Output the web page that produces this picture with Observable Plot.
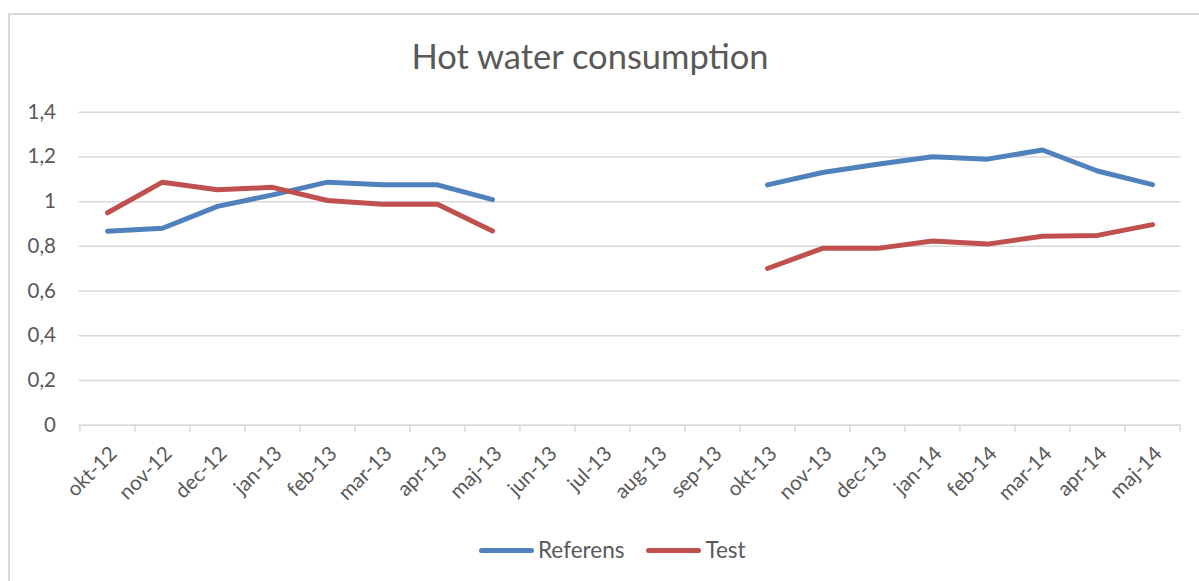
<!DOCTYPE html>
<html>
<head>
<meta charset="utf-8">
<script src="https://cdn.jsdelivr.net/npm/d3@7"></script>
<script src="https://cdn.jsdelivr.net/npm/@observablehq/plot@0.6"></script>
<style>
  html, body { margin: 0; padding: 0; background: #fff; }
  #wrap { position: relative; width: 1199px; height: 581px; overflow: hidden; font-family: Lato, "Open Sans", sans-serif; color: #595959; }
  #border { position: absolute; left: 8px; top: 13px; width: 1400px; height: 800px; border: 2px solid #d9d9d9; box-sizing: border-box; }
  #title { position: absolute; left: 0; top: 39px; width: 1180px; text-align: center; font-size: 34.5px; line-height: 34px; font-weight: 400; white-space: nowrap; }
  #chart { position: absolute; left: 0; top: 0; }
  #legend { position: absolute; left: 479px; top: 539px; height: 22px; font-size: 22.5px; line-height: 22px; display: flex; align-items: center; white-space: nowrap; }
  .sw { display: inline-block; width: 55px; height: 5px; border-radius: 3px; margin-right: 4px; }
  .item { display: flex; align-items: center; }
</style>
</head>
<body>
<div id="wrap">
  <div id="border"></div>
  <div id="title">Hot water consumption</div>
  <div id="chart"></div>
  <div id="legend"></div>
</div>
<script>
const months = ["okt-12","nov-12","dec-12","jan-13","feb-13","mar-13","apr-13","maj-13","jun-13","jul-13","aug-13","sep-13","okt-13","nov-13","dec-13","jan-14","feb-14","mar-14","apr-14","maj-14"];
const referens = [0.868, 0.881, 0.979, 1.030, 1.087, 1.075, 1.075, 1.009, null, null, null, null, 1.075, 1.130, 1.167, 1.201, 1.190, 1.231, 1.137, 1.076];
const test = [0.950, 1.087, 1.053, 1.064, 1.005, 0.988, 0.988, 0.869, null, null, null, null, 0.701, 0.791, 0.791, 0.824, 0.810, 0.845, 0.849, 0.897];
const yTicks = [0, 0.2, 0.4, 0.6, 0.8, 1, 1.2, 1.4];
const seriesNames = ["Referens", "Test"];
const seriesColors = ["#4f81bd", "#c0504d"];

const rows = [];
months.forEach((m, i) => {
  rows.push({month: m, series: "Referens", value: referens[i]});
  rows.push({month: m, series: "Test", value: test[i]});
});

const W = 1199, H = 520;
const left = 78.5, right = 1180.6;
const step = (right - left) / months.length;
const fmt = d => String(d).replace(".", ",");

const chart = Plot.plot({
  width: W,
  height: H,
  marginLeft: left,
  marginRight: W - right,
  marginTop: 111.7,
  marginBottom: H - 424.7,
  style: {fontFamily: "Lato, 'Open Sans', sans-serif", fontSize: "20px", color: "#595959", background: "transparent"},
  x: {type: "point", domain: months, padding: 0.5},
  y: {domain: [0, 1.4]},
  color: {domain: seriesNames, range: seriesColors},
  marks: [
    Plot.gridY(yTicks, {stroke: "#d9d9d9", strokeOpacity: 1, strokeWidth: 1.5}),
    Plot.ruleY([0], {stroke: "#d9d9d9", strokeWidth: 1.5}),
    Plot.ruleX(months, {x: d => d, y1: 0, y2: 0, dx: -step / 2, insetBottom: -7, stroke: "#d9d9d9", strokeWidth: 1.5}),
    Plot.ruleX(months.slice(-1), {x: d => d, y1: 0, y2: 0, dx: step / 2, insetBottom: -7, stroke: "#d9d9d9", strokeWidth: 1.5}),
    Plot.axisY(yTicks, {tickSize: 0, tickPadding: 23, tickFormat: fmt, fill: "#595959", fontSize: 20.5, label: null}),
    Plot.axisX({tickSize: 0, tickRotate: -45, tickPadding: 14, dx: 6, dy: 11, fill: "#595959", fontSize: 20.5, label: null}),
    Plot.line(rows, {x: "month", y: "value", z: "series", stroke: "series", strokeWidth: 5, strokeLinecap: "round", strokeLinejoin: "round"})
  ]
});
document.getElementById("chart").appendChild(chart);

const legend = document.getElementById("legend");
seriesNames.forEach((name, i) => {
  const item = document.createElement("div");
  item.className = "item";
  if (i > 0) item.style.marginLeft = "22px";
  const sw = document.createElement("span");
  sw.className = "sw";
  sw.style.background = seriesColors[i];
  const t = document.createElement("span");
  t.textContent = name;
  item.appendChild(sw);
  item.appendChild(t);
  legend.appendChild(item);
});
</script>
</body>
</html>
